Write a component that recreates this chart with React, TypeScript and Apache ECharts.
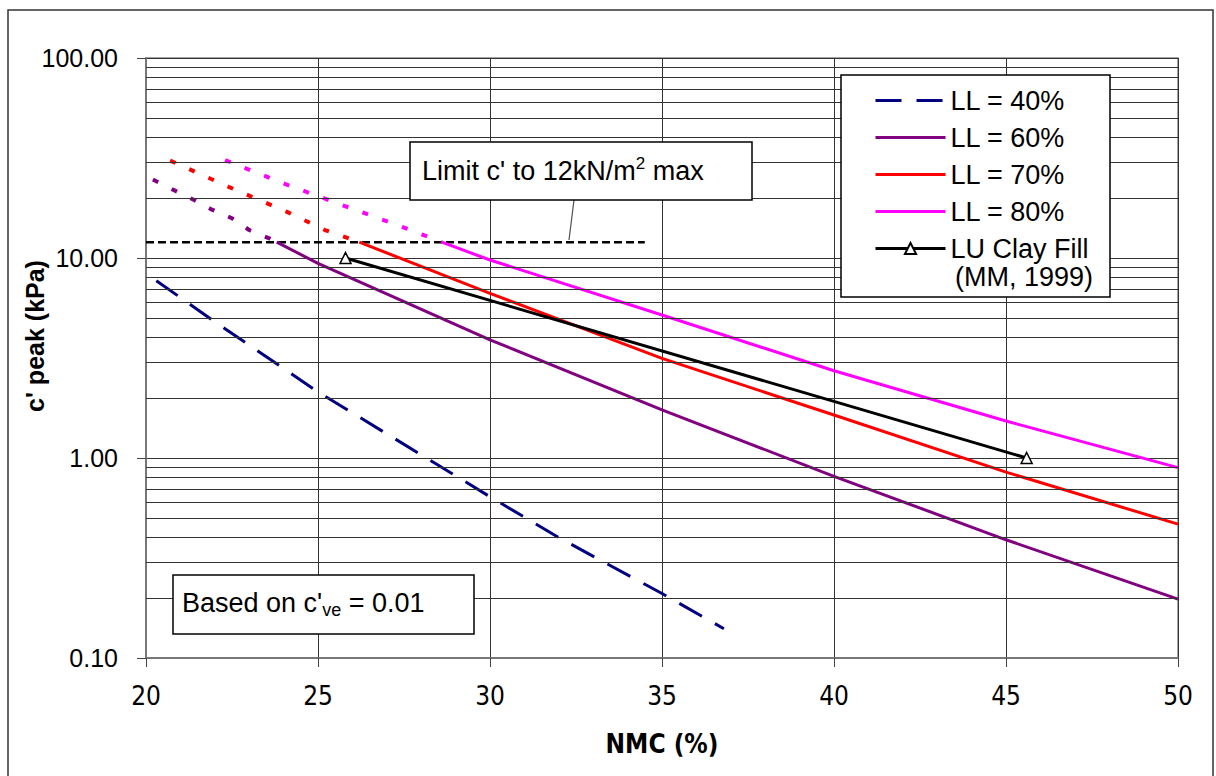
import React, { useEffect, useRef } from 'react';
import * as echarts from 'echarts';

// ---- data ----
const X_MIN = 20;
const X_MAX = 50;
const X_STEP = 5;
const Y_MIN = 0.1;
const Y_MAX = 100;
const Y_MINOR = [0.2, 0.3, 0.4, 0.5, 0.6, 0.7, 0.8, 0.9, 2, 3, 4, 5, 6, 7, 8, 9, 20, 30, 40, 50, 60, 70, 80, 90];

const LL40_X = [20.3, 22, 25, 30, 32, 35, 36.8];
const LL40_Y = [7.7, 4.8, 2.14, 0.64, 0.4, 0.21, 0.14];

const LL60_DOT_X = [20.2, 20.8, 21.4, 21.9, 22.5, 23.0, 23.6, 23.8];
const LL60_DOT_Y = [24.7, 21.9, 19.5, 17.5, 15.8, 13.8, 12.5, 12.0];
const LL60_X = [23.8, 25, 30, 35, 40, 45, 50];
const LL60_Y = [12.0, 9.4, 3.9, 1.74, 0.81, 0.39, 0.197];

const LL70_DOT_X = [20.7, 22.4, 24.1, 25.2, 26.2];
const LL70_DOT_Y = [30.7, 22.7, 17.0, 13.8, 12.0];
const LL70_X = [26.2, 30, 35, 40, 45, 50];
const LL70_Y = [12.0, 6.66, 3.15, 1.64, 0.85, 0.467];

const LL80_DOT_X = [22.3, 24.0, 25.7, 27.5, 28.6];
const LL80_DOT_Y = [30.9, 23.6, 18.4, 14.2, 12.0];
const LL80_X = [28.6, 30, 35, 40, 45, 50];
const LL80_Y = [12.0, 9.77, 5.19, 2.73, 1.53, 0.895];

const LU_X = [25.8, 45.6];
const LU_Y = [10.0, 1.0];

const LIMIT_X = [20, 34.5];
const LIMIT_Y = 12;

const SERIES_NAMES = ['LL = 40%', 'LL = 60%', 'LL = 70%', 'LL = 80%', 'LU Clay Fill'];

const SANS = "'Liberation Sans', Arial, sans-serif";
const NARROW = "'Liberation Sans Narrow', 'Arial Narrow', 'DejaVu Sans Condensed', sans-serif";

const zip = (xs: number[], ys: number[]) => xs.map((x, i) => [x, ys[i]]);

const HIDDEN_SYMBOL = { color: 'rgba(0,0,0,0)', borderColor: 'rgba(0,0,0,0)', borderWidth: 0, opacity: 0 };

export default function App() {
  const ref = useRef<HTMLDivElement>(null);
  useEffect(() => {
    if (!ref.current) return;
    const chart = echarts.init(ref.current, undefined, { renderer: 'svg' });
    const dotted = [6, 15];
    const option: any = {
      animation: false,
      backgroundColor: '#fff',
      grid: {
        left: 146,
        right: 38,
        top: 58,
        bottom: 118,
        show: true,
        borderColor: '#888',
        borderWidth: 1.5,
      },
      xAxis: {
        type: 'value',
        min: X_MIN,
        max: X_MAX,
        interval: X_STEP,
        name: 'NMC (%)',
        nameLocation: 'middle',
        nameGap: 73,
        nameTextStyle: { fontFamily: NARROW, fontSize: 26, fontWeight: 'bold', color: '#000' },
        axisLine: { lineStyle: { color: '#777', width: 2 } },
        axisTick: { show: true, length: 9, lineStyle: { color: '#444', width: 1 } },
        axisLabel: { fontFamily: NARROW, fontSize: 26, color: '#000', margin: 25 },
        splitLine: { show: true, lineStyle: { color: '#333', width: 1 } },
      },
      yAxis: {
        type: 'log',
        logBase: 10,
        min: Y_MIN,
        max: Y_MAX,
        axisLine: { show: true, lineStyle: { color: '#777', width: 2 } },
        axisTick: { show: true, length: 9, lineStyle: { color: '#444', width: 1 } },
        axisLabel: {
          fontFamily: SANS,
          fontSize: 25,
          color: '#000',
          margin: 28,
          formatter: (v: number) => Number(v).toFixed(2),
        },
        splitLine: { show: true, lineStyle: { color: '#333', width: 1 } },
      },
      legend: {
        data: SERIES_NAMES.map((n) =>
          n === 'LU Clay Fill' ? { name: n } : { name: n, itemStyle: HIDDEN_SYMBOL }
        ),
        orient: 'vertical',
        left: 869,
        top: 82,
        itemWidth: 70,
        itemHeight: 14,
        itemGap: 10,
        z: 20,
        lineStyle: { width: 3 },
        textStyle: { fontFamily: SANS, fontSize: 27, lineHeight: 27, color: '#000' },
      },
      series: [
        {
          name: 'grid',
          type: 'line',
          data: [],
          z: 1,
          silent: true,
          markLine: {
            silent: true,
            symbol: ['none', 'none'],
            label: { show: false },
            lineStyle: { color: '#333', width: 1, type: 'solid' },
            data: Y_MINOR.map((v) => ({ yAxis: v })),
          },
        },
        {
          name: 'limit',
          type: 'line',
          data: zip(LIMIT_X, [LIMIT_Y, LIMIT_Y]),
          symbol: 'none',
          lineStyle: { color: '#000', width: 2.5, type: [8, 4] },
          z: 3,
        },
        {
          name: 'LL = 40%',
          type: 'line',
          data: zip(LL40_X, LL40_Y),
          symbol: 'none',
          color: '#000080',
          lineStyle: { color: '#000080', width: 3, type: [26, 15] },
          z: 4,
        },
        {
          name: 'LL = 60% dotted',
          type: 'line',
          data: zip(LL60_DOT_X, LL60_DOT_Y),
          symbol: 'none',
          lineStyle: { color: '#800080', width: 4, type: dotted },
          z: 4,
        },
        {
          name: 'LL = 60%',
          type: 'line',
          data: zip(LL60_X, LL60_Y),
          symbol: 'none',
          color: '#800080',
          lineStyle: { color: '#800080', width: 3 },
          z: 4,
        },
        {
          name: 'LL = 70% dotted',
          type: 'line',
          data: zip(LL70_DOT_X, LL70_DOT_Y),
          symbol: 'none',
          lineStyle: { color: '#ff0000', width: 4, type: dotted },
          z: 4,
        },
        {
          name: 'LL = 70%',
          type: 'line',
          data: zip(LL70_X, LL70_Y),
          symbol: 'none',
          color: '#ff0000',
          lineStyle: { color: '#ff0000', width: 3 },
          z: 4,
        },
        {
          name: 'LL = 80% dotted',
          type: 'line',
          data: zip(LL80_DOT_X, LL80_DOT_Y),
          symbol: 'none',
          lineStyle: { color: '#ff00ff', width: 4, type: dotted },
          z: 4,
        },
        {
          name: 'LL = 80%',
          type: 'line',
          data: zip(LL80_X, LL80_Y),
          symbol: 'none',
          color: '#ff00ff',
          lineStyle: { color: '#ff00ff', width: 3 },
          z: 4,
        },
        {
          name: 'LU Clay Fill',
          type: 'line',
          data: zip(LU_X, LU_Y),
          symbol: 'triangle',
          symbolSize: 11,
          color: '#000',
          itemStyle: { color: '#fff', borderColor: '#000', borderWidth: 1.5 },
          lineStyle: { color: '#000', width: 3 },
          z: 5,
        },
      ],
      graphic: [
        {
          type: 'rect',
          z: 0,
          shape: { x: 8, y: 10, width: 1205, height: 800 },
          style: { fill: 'none', stroke: '#333', lineWidth: 1.5 },
          silent: true,
        },
        {
          type: 'text',
          z: 11,
          x: 35,
          y: 336,
          rotation: Math.PI / 2,
          style: {
            text: "c' peak (kPa)",
            align: 'center',
            verticalAlign: 'middle',
            fill: '#000',
            fontFamily: SANS,
            fontWeight: 'bold',
            fontSize: 25,
          },
        },
        {
          type: 'line',
          z: 10,
          shape: { x1: 574, y1: 200, x2: 569, y2: 240 },
          style: { stroke: '#555', lineWidth: 1.2 },
        },
        {
          type: 'rect',
          z: 10,
          shape: { x: 410, y: 142, width: 342, height: 58 },
          style: { fill: '#fff', stroke: '#000', lineWidth: 1.5 },
        },
        {
          type: 'text',
          z: 11,
          x: 422,
          y: 171,
          style: {
            text: "{a|Limit c' to 12kN/m}{s|2}{a| max}",
            align: 'left',
            verticalAlign: 'middle',
            fill: '#000',
            rich: {
              a: { fontFamily: SANS, fontSize: 27, lineHeight: 32, fill: '#000' },
              s: { fontFamily: SANS, fontSize: 17, verticalAlign: 'top', fill: '#000' },
            },
          },
        },
        {
          type: 'rect',
          z: 10,
          shape: { x: 173, y: 575, width: 301, height: 59 },
          style: { fill: '#fff', stroke: '#000', lineWidth: 1.5 },
        },
        {
          type: 'text',
          z: 11,
          x: 182,
          y: 603,
          style: {
            text: "{a|Based on c'}{b|ve}{a| = 0.01}",
            align: 'left',
            verticalAlign: 'middle',
            fill: '#000',
            rich: {
              a: { fontFamily: SANS, fontSize: 27, lineHeight: 32, fill: '#000' },
              b: { fontFamily: SANS, fontSize: 18, verticalAlign: 'bottom', fill: '#000' },
            },
          },
        },
        {
          type: 'rect',
          z: 10,
          shape: { x: 841, y: 75, width: 269, height: 222 },
          style: { fill: '#fff', stroke: '#000', lineWidth: 1.5 },
        },
        {
          type: 'text',
          z: 21,
          x: 955,
          y: 277,
          style: {
            text: '(MM, 1999)',
            align: 'left',
            verticalAlign: 'middle',
            fill: '#000',
            fontFamily: SANS,
            fontSize: 27,
          },
        },
      ],
    };
    chart.setOption(option);
    return () => chart.dispose();
  }, []);
  return (
    <div
      ref={ref}
      style={{ position: 'fixed', left: 0, top: 0, width: 1216, height: 776, background: '#fff' }}
    />
  );
}
